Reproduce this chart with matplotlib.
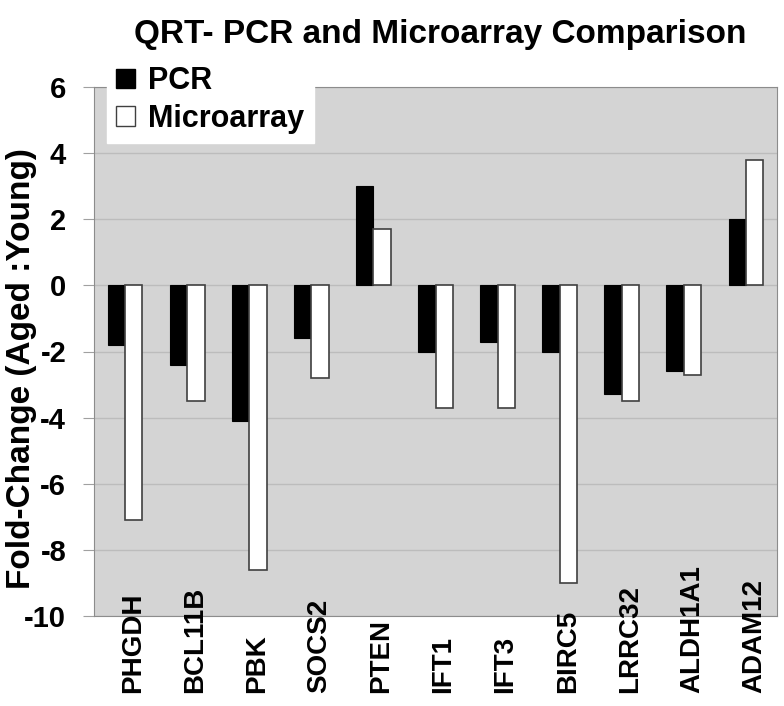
import numpy as np
import matplotlib.pyplot as plt
from matplotlib.patches import Patch
import matplotlib.transforms as mtransforms

plt.rcParams['font.family'] = ['Liberation Sans', 'DejaVu Sans']
plt.rcParams['font.weight'] = 'bold'

# data
genes = ['PHGDH', 'BCL11B', 'PBK', 'SOCS2', 'PTEN', 'IFT1', 'IFT3',
         'BIRC5', 'LRRC32', 'ALDH1A1', 'ADAM12']
pcr = [-1.8, -2.4, -4.1, -1.6, 3.0, -2.0, -1.7, -2.0, -3.3, -2.6, 2.0]
microarray = [-7.1, -3.5, -8.6, -2.8, 1.7, -3.7, -3.7, -9.0, -3.5, -2.7, 3.8]
yticks = [6, 4, 2, 0, -2, -4, -6, -8, -10]

fig = plt.figure(figsize=(7.84, 7.06), dpi=100)
ax = fig.add_axes([94/784, 90/706, 683/784, 529/706])
ax.set_facecolor('#d4d4d4')

x = np.arange(len(genes))
w = 0.28
ax.bar(x - w/2, pcr, w, color='black', edgecolor='black', linewidth=0.8, zorder=3)
ax.bar(x + w/2, microarray, w, color='white', edgecolor='#404040', linewidth=1.2, zorder=3)

ax.set_xlim(-0.5, len(genes) - 0.5)
ax.set_ylim(-10, 6)
ax.set_yticks(yticks)
ax.set_yticklabels([str(t) for t in yticks], fontsize=21, fontweight='bold')
ax.tick_params(axis='y', length=8, color='#a0a0a0', pad=12)
ax.set_xticks([])
ax.grid(axis='y', color='#bcbcbc', linewidth=1, zorder=1)
for s in ax.spines.values():
    s.set_color('#8c8c8c')

# category labels sit inside the bottom of the plot, rotated
trans = mtransforms.blended_transform_factory(ax.transData, ax.transAxes)
for xi, g in zip(x, genes):
    ax.text(xi - 0.08, -0.146, g, rotation=90, ha='left', va='bottom',
            fontsize=20, fontweight='bold', transform=trans)

fig.text(440/784, 1 - 35/706, 'QRT- PCR and Microarray Comparison',
         ha='center', va='center', fontsize=24, fontweight='bold')
fig.text(22/784, 1 - 369/706, 'Fold-Change (Aged :Young)', rotation=90,
         ha='center', va='center', fontsize=24, fontweight='bold')

handles = [Patch(facecolor='black', edgecolor='black'),
           Patch(facecolor='white', edgecolor='#404040')]
leg = ax.legend(handles, ['PCR', 'Microarray'], loc='upper left',
                bbox_to_anchor=(107/784, 1 - 57/706), bbox_transform=fig.transFigure,
                borderaxespad=0,
                prop={'size': 22, 'weight': 'bold'}, handlelength=0.6, handleheight=0.6,
                handletextpad=0.45, labelspacing=0.25, borderpad=0.3,
                fancybox=False, framealpha=1, edgecolor='white')
leg.set_zorder(5)

fig.savefig('out.png', dpi=100)
